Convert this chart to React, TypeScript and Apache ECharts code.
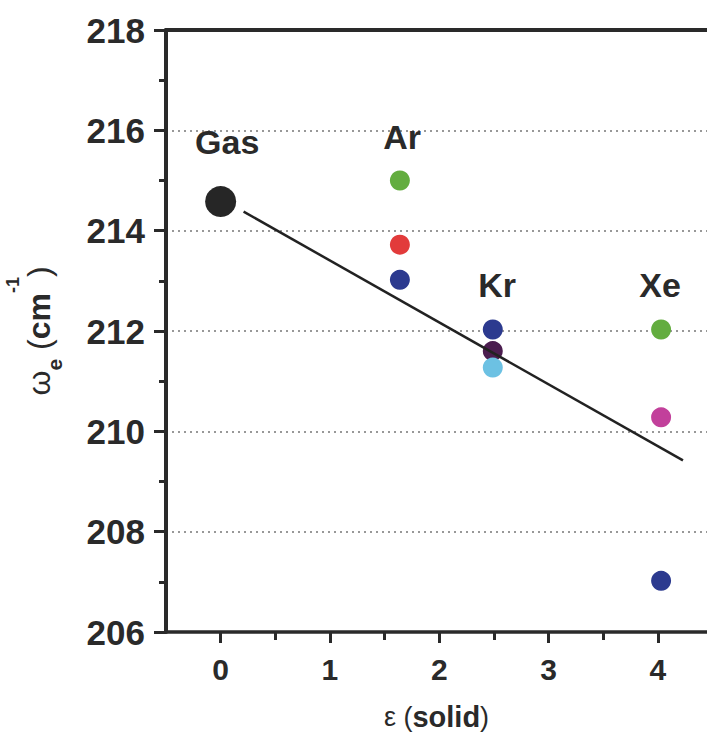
import React, { useEffect, useRef } from "react";
import * as echarts from "echarts";

// ---- data ----
const gasPoint: [number, number] = [0, 214.58];

const arX = 1.64;
const arValues = [215.0, 213.72, 213.02];
const arColors = ["#63ad3f", "#e23b3b", "#2c3a8f"];

const krX = 2.49;
const krValues = [212.03, 211.6, 211.27];
const krColors = ["#2c3a8f", "#4b1d4f", "#6cc1e3"];

const xeX = 4.03;
const xeValues = [212.03, 210.28, 207.02];
const xeColors = ["#63ad3f", "#c2409b", "#2c3a8f"];

const fitX = [0.21, 4.23];
const fitY = [214.38, 209.42];

const labelNames = ["Gas", "Ar", "Kr", "Xe"];
const labelX = [0.06, 1.66, 2.53, 4.02];
const labelY = [215.77, 215.87, 212.92, 212.92];

const xMajorTicks = [0, 1, 2, 3, 4];
const xMinorTicks = [0.5, 1.5, 2.5, 3.5];

const FONT = "'Liberation Sans', Arial, sans-serif";
const INK = "#2a2a2a";

function group(x: number, values: number[], colors: string[]) {
  return values.map((v, i) => ({ value: [x, v], itemStyle: { color: colors[i] } }));
}

export default function App() {
  const ref = useRef<HTMLDivElement>(null);
  useEffect(() => {
    if (!ref.current) return;
    const chart = echarts.init(ref.current, null, { renderer: "svg" });
    const xMin = -0.5;
    const xMax = 4.45;
    chart.setOption({
      animation: false,
      backgroundColor: "#ffffff",
      grid: { left: 166, top: 30, right: 0, bottom: 102, containLabel: false, outerBoundsMode: "none" },
      xAxis: [
        {
          type: "value",
          min: xMin,
          max: xMax,
          position: "bottom",
          axisLine: { show: true, onZero: false, lineStyle: { color: INK, width: 3.5 } },
          axisTick: {
            show: true,
            customValues: xMajorTicks,
            length: 11,
            lineStyle: { color: INK, width: 3 },
          },
          axisLabel: {
            show: true,
            customValues: xMajorTicks,
            margin: 22,
            fontSize: 30,
            fontWeight: "bold",
            fontFamily: FONT,
            color: INK,
          },
          splitLine: { show: false },
          name: "{r|ε (}{b|solid}{r|)}",
          nameLocation: "middle",
          nameGap: 70,
          nameMoveOverlap: false,
          nameTextStyle: {
            rich: {
              r: { fontSize: 27, fontFamily: FONT, color: INK },
              b: { fontSize: 29, fontFamily: FONT, fontWeight: "bold", color: INK },
            },
          },
        },
        {
          type: "value",
          min: xMin,
          max: xMax,
          position: "bottom",
          axisLine: { show: false, onZero: false },
          axisTick: {
            show: true,
            customValues: xMinorTicks,
            length: 8,
            lineStyle: { color: INK, width: 3 },
          },
          axisLabel: { show: false },
          splitLine: { show: false },
        },
        {
          type: "value",
          min: xMin,
          max: xMax,
          position: "top",
          axisLine: { show: true, onZero: false, lineStyle: { color: INK, width: 4 } },
          axisTick: { show: false },
          axisLabel: { show: false },
          splitLine: { show: false },
        },
      ],
      yAxis: {
        type: "value",
        min: 206,
        max: 218,
        interval: 2,
        axisLine: { show: true, onZero: false, lineStyle: { color: INK, width: 4 } },
        axisTick: { show: true, length: 12, lineStyle: { color: INK, width: 3 } },
        minorTick: { show: true, splitNumber: 2, length: 7, lineStyle: { color: INK, width: 3 } },
        axisLabel: {
          margin: 21,
          fontSize: 35,
          fontWeight: "bold",
          fontFamily: FONT,
          color: INK,
        },
        splitLine: {
          show: true,
          lineStyle: { color: "#777777", width: 1.5, type: [2, 4] },
        },
        name: "{w|ω}{sub|e}{p| (}{n|cm}{sup|-1}{p|)}",
        nameLocation: "middle",
        nameGap: 92,
        nameRotate: 90,
        nameMoveOverlap: false,
        nameTextStyle: {
          rich: {
            w: { fontSize: 32, fontFamily: FONT, color: INK, lineHeight: 70, verticalAlign: "middle" },
            p: { fontSize: 32, fontFamily: FONT, color: INK, lineHeight: 32, verticalAlign: "middle" },
            n: { fontSize: 32, fontFamily: FONT, fontWeight: "bold", color: INK, lineHeight: 32, verticalAlign: "middle" },
            sub: { fontSize: 21, fontFamily: FONT, fontWeight: "bold", color: INK, lineHeight: 21, verticalAlign: "bottom", padding: [0, 0, 9, 0] },
            sup: { fontSize: 18, fontFamily: FONT, fontWeight: "bold", color: INK, lineHeight: 18, verticalAlign: "top" },
          },
        },
      },
      series: [
        {
          type: "scatter",
          xAxisIndex: 0,
          symbolSize: 31,
          itemStyle: { color: "#262626", opacity: 1 },
          data: [gasPoint],
        },
        {
          type: "scatter",
          xAxisIndex: 0,
          symbolSize: 20,
          itemStyle: { opacity: 1 },
          data: [
            ...group(arX, arValues, arColors),
            ...group(krX, krValues, krColors),
            ...group(xeX, xeValues, xeColors),
          ],
        },
        {
          type: "scatter",
          xAxisIndex: 0,
          symbolSize: 1,
          itemStyle: { color: "#ffffff", opacity: 1 },
          label: {
            show: true,
            position: "inside",
            formatter: (p: any) => p.name,
            fontSize: 34,
            fontWeight: "bold",
            fontFamily: FONT,
            color: INK,
            opacity: 1,
          },
          data: labelNames.map((n, i) => ({ name: n, value: [labelX[i], labelY[i]] })),
        },
        {
          type: "line",
          xAxisIndex: 0,
          showSymbol: false,
          symbol: "none",
          lineStyle: { color: "#222222", width: 2.5 },
          data: fitX.map((x, i) => [x, fitY[i]]),
          z: 5,
        },
      ],
    });
    return () => chart.dispose();
  }, []);
  return (
    <div
      ref={ref}
      style={{ position: "fixed", left: 0, top: 0, width: 707, height: 734, background: "#fff" }}
    />
  );
}
